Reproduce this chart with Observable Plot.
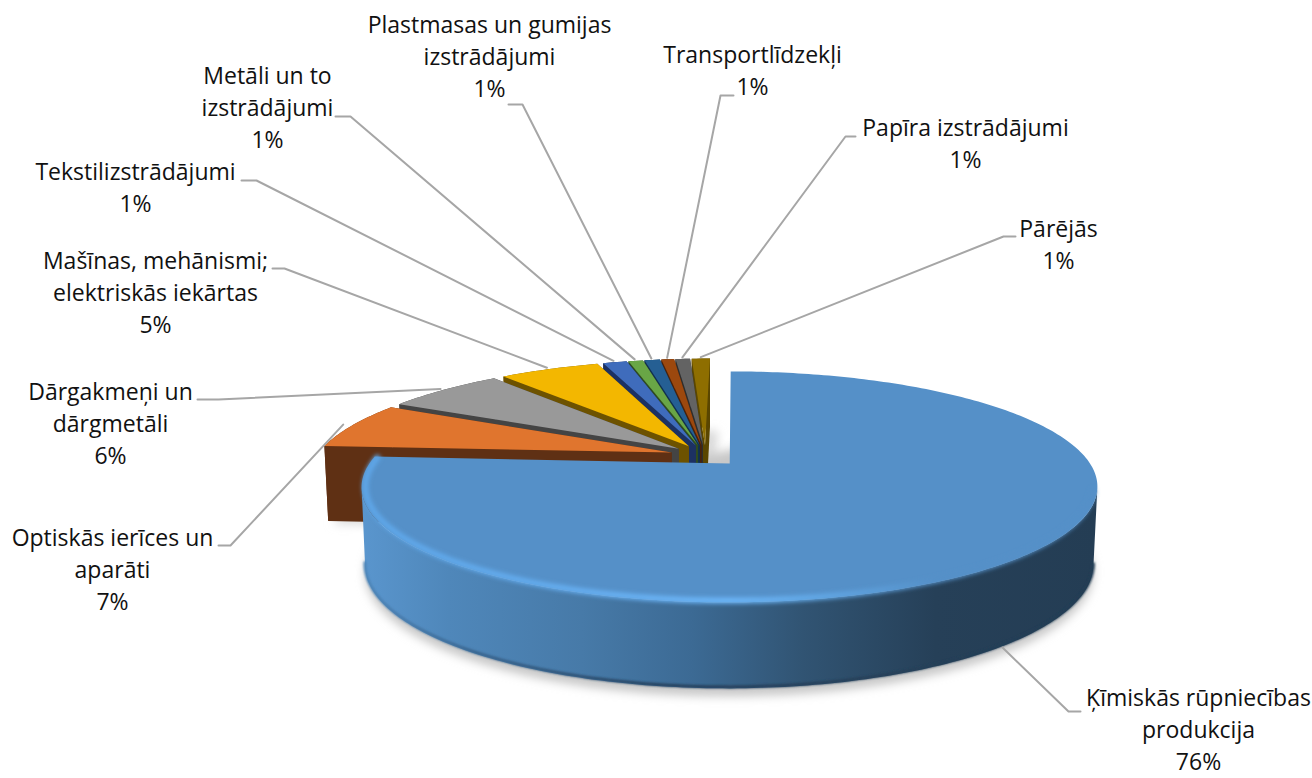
<!DOCTYPE html>
<html>
<head>
<meta charset="utf-8">
<script src="https://cdn.jsdelivr.net/npm/d3@7"></script>
<script src="https://cdn.jsdelivr.net/npm/@observablehq/plot@0.6"></script>
<style>
html,body{margin:0;padding:0;background:#fff}
svg{display:block}
</style>
</head>
<body>
<div id="chart"></div>
<script>
// ---------- data ----------
const categories = [
  "Ķīmiskās rūpniecības\nprodukcija",
  "Optiskās ierīces un\naparāti",
  "Dārgakmeņi un\ndārgmetāli",
  "Mašīnas, mehānismi;\nelektriskās iekārtas",
  "Tekstilizstrādājumi",
  "Metāli un to\nizstrādājumi",
  "Plastmasas un gumijas\nizstrādājumi",
  "Transportlīdzekļi",
  "Papīra izstrādājumi",
  "Pārējās"
];
// shares; labels show them rounded
const shares = [76, 6.7, 6.4, 5.45, 1.3, 0.8, 0.85, 0.7, 0.8, 1.0];

// ---------- styling ----------
const topColors  = ["#5590C8","#E0752E","#999999","#F3B700","#3F6CBC","#69A646","#255F93","#9C480E","#636363","#8E6E00"];
const wallColors = ["#2A4A68","#5F3014","#444444","#6D5200","#1C3162","#2F4C20","#113050","#4A220A","#2E2E2E","#5A4600"];

// ---------- layout: where each label sits and how its leader line bends ----------
const labelCenterX = [1198, 112, 110, 155, 135, 267, 489, 752, 965, 1058];
const labelTopY    = [ 683, 523, 377, 246, 157,  61,  10,  40, 113,  214];
const elbowFromX   = [1080, 218, 197, 272, 241, 335, 508, 733, 855, 1015];
const elbowToX     = [1068, 230, 218, 284, 256, 350, 522, 720, 845, 1003];
const elbowY       = [ 711, 545, 399, 268, 180, 116, 104,  95, 136,  236];
const leaderGap    = [0.005, 0.03, 0.015, 0.02, 0.02, 0.02, 0.02, 0.02, 0.02, 0.02];
const leaderTurn   = [3, 0, 0, 0, 0, 0, 0, 0, 0, 0];

// ---------- pie-in-perspective model (disc coordinates -> picture coordinates) ----------
const X0 = 705, Y0 = 455, F = 355, G = 107.5, K = 0.2, EXPLODE = 0.1, SKEW = -6;
const rad = d => d * Math.PI / 180;
const project = (u, v) => [X0 + (F * u + SKEW * v) / (1 - K * v), Y0 + G * v / (1 - K * v)];
const drop = ([x, y]) => [X0 + (x - X0) * 0.99, y + 78 + (y - 487) * 0.07];

let acc = -90;
const total = d3.sum(shares);
const slices = shares.map((s, i) => {
  const a0 = acc, a1 = acc + s / total * 360; acc = a1;
  const mid = (a0 + a1) / 2;
  const ox = EXPLODE * Math.cos(rad(mid)), oy = EXPLODE * Math.sin(rad(mid));
  const arc = [];
  const n = Math.max(2, Math.ceil(a1 - a0));
  for (let j = 0; j <= n; ++j) {
    const a = a0 + (a1 - a0) * j / n;
    arc.push({a, p: project(ox + Math.cos(rad(a)), oy + Math.sin(rad(a)))});
  }
  const apex = project(ox, oy);
  return {i, a0, a1, mid, ox, oy, arc: arc.map(d => d.p), angles: arc.map(d => d.a), apex};
});

const poly = (pts, fill, tag) =>
  Plot.line(pts, {x: p => p[0], y: p => p[1], fill, stroke: "none", ariaDescription: tag});
const trace = (pts, stroke, strokeWidth, tag) =>
  Plot.line(pts, {x: p => p[0], y: p => p[1], stroke, strokeWidth, fill: "none", ariaDescription: tag});

// ---------- defs ----------
const defs = () => {
  const d = d3.create("svg:defs");
  const grad = (id, stops) => {
    const g = d.append("linearGradient").attr("id", id).attr("gradientUnits", "userSpaceOnUse")
      .attr("x1", 360).attr("x2", 1097).attr("y1", 0).attr("y2", 0);
    stops.forEach(([o, c]) => g.append("stop").attr("offset", o).attr("stop-color", c));
  };
  grad("blueWall", [[0,"#5A96CE"],[0.12,"#4F87BA"],[0.3,"#477AA8"],[0.45,"#3C6A94"],[0.6,"#315473"],[0.78,"#264058"],[1,"#243D54"]]);
  grad("rimLight", [[0,"#5EA6E8"],[0.3,"#66AEF0"],[0.5,"#6CB6F8"],[0.62,"#62A8E6"],[0.78,"#5590C8"],[1,"#5590C8"]]);
  grad("bottomEdge", [[0,"#4F87BA"],[0.15,"#3A6690"],[0.4,"#26425E"],[1,"#243D54"]]);
  for (const [id, s] of [["blur6", 5], ["blur2", 2], ["blur1", 1]]) {
    d.append("filter").attr("id", id).attr("filterUnits", "userSpaceOnUse")
      .attr("x", 0).attr("y", 0).attr("width", 1312).attr("height", 778)
      .append("feGaussianBlur").attr("stdDeviation", s);
  }
  return d.node();
};

// ---------- marks ----------
const marks = [defs];

// soft shadows under the wedges
for (const s of slices.slice(1)) {
  const dx = s.i >= 4 ? 8 : 4;
  marks.push(poly([drop(s.apex), ...s.arc.map(drop)].map(([x, y]) => [x + dx, y + 3]), "#DADADA", "shadow"));
}
const blue = slices[0];
marks.push(poly(blue.arc.map(drop).map(([x, y]) => [x, y + 8]), "#C8C8C8", "shadow"));

// wedges, back to front
for (const s of [...slices.slice(1)].reverse()) {
  const wall = wallColors[s.i];
  const last = s.arc[s.arc.length - 1];
  marks.push(poly([...s.arc, ...s.arc.map(drop).reverse()], wall, "wall"));
  marks.push(poly([s.apex, s.arc[0], drop(s.arc[0]), drop(s.apex)], wall, "cut"));
  marks.push(poly([s.apex, last, drop(last), drop(s.apex)], wall, "cut"));
  marks.push(poly([s.apex, ...s.arc], topColors[s.i], "top"));
}

// the large wedge with its wall, rim and edge shading
const frontArc = blue.arc.filter((p, j) => blue.angles[j] > 11 && blue.angles[j] < 169);
const rimArc = [];
for (let a = 14; a <= blue.a1; a += 1) {
  rimArc.push(project(blue.ox + 0.99 * Math.cos(rad(a)), blue.oy + 0.99 * Math.sin(rad(a))));
}
marks.push(poly([...frontArc, ...frontArc.map(drop).reverse()], "url(#blueWall)", "blue wall"));
marks.push(trace(frontArc.map(drop).map(([x, y]) => [x, y - 1.5]), "url(#bottomEdge)", 3, "bottom edge"));
marks.push(poly([blue.apex, ...blue.arc], topColors[0], "blue top"));
marks.push(trace(rimArc, "url(#rimLight)", 6, "rim light"));

// leader lines, starting on each wedge's rim
const leaderRows = slices.flatMap(s => {
  const g = 1 + leaderGap[s.i], a = rad(s.mid + leaderTurn[s.i]);
  const edge = project(s.ox + g * Math.cos(a), s.oy + g * Math.sin(a));
  const end = s.i === 0 ? drop(edge) : edge;
  return [
    {k: s.i, x: elbowFromX[s.i], y: elbowY[s.i]},
    {k: s.i, x: elbowToX[s.i], y: elbowY[s.i]},
    {k: s.i, x: end[0], y: end[1]}
  ];
});
marks.push(Plot.line(leaderRows, {x: "x", y: "y", z: "k", stroke: "#A6A6A6", strokeWidth: 2}));

// labels
const labelRows = categories.map((c, i) => ({
  text: `${c}\n${Math.round(shares[i])}%`, x: labelCenterX[i], y: labelTopY[i]
}));
marks.push(Plot.text(labelRows, {
  x: "x", y: "y", text: "text", lineAnchor: "top", lineHeight: 1.391,
  fontSize: 23, fontFamily: "Open Sans", fill: "#111"
}));

const chart = Plot.plot({
  width: 1312, height: 778,
  margin: 0,
  x: {type: "linear", domain: [0, 1312], range: [0, 1312], axis: null},
  y: {type: "linear", domain: [0, 778], range: [0, 778], axis: null},
  style: {background: "#fff"},
  marks
});
document.getElementById("chart").append(chart);

const sel = d3.select(chart);
sel.selectAll('g[aria-description="shadow"]').attr("filter", "url(#blur6)");
sel.selectAll('g[aria-description="rim light"]').attr("filter", "url(#blur2)");
sel.selectAll('g[aria-description="bottom edge"]').attr("filter", "url(#blur1)");
</script>
</body>
</html>
